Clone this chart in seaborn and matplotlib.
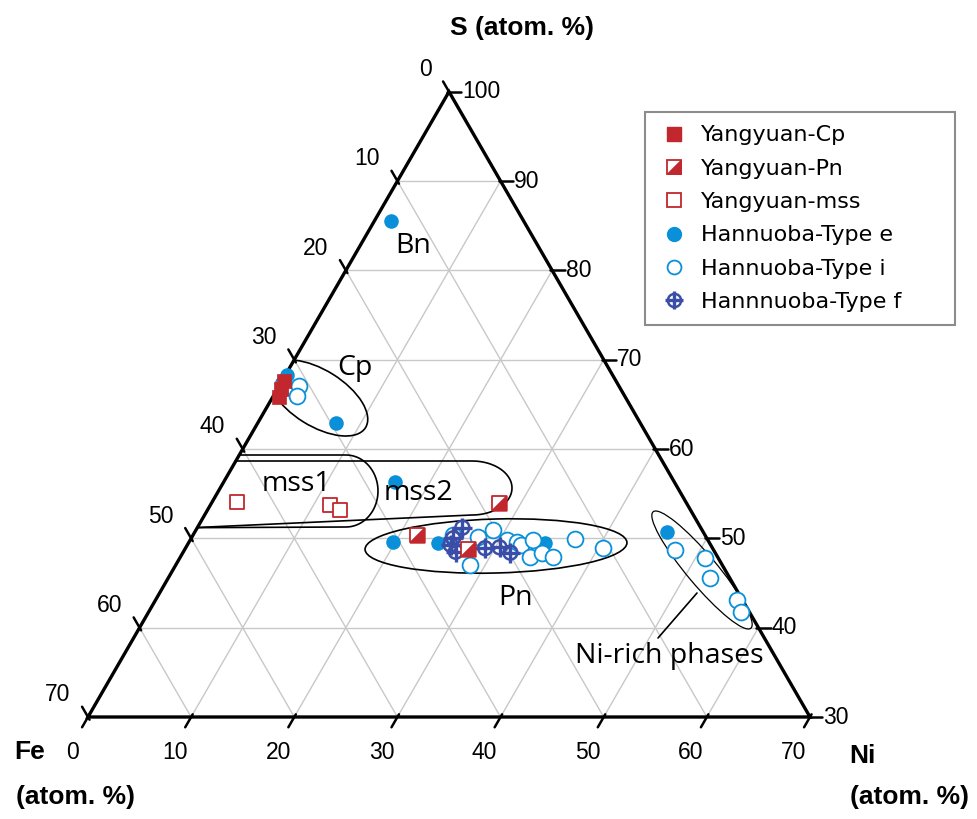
import numpy as np
import pandas as pd
import matplotlib
matplotlib.use("Agg")
import matplotlib.pyplot as plt
import seaborn as sns
from matplotlib.path import Path
from matplotlib.patches import Ellipse, PathPatch, Polygon
from matplotlib.lines import Line2D
from matplotlib.legend_handler import HandlerTuple
from matplotlib import font_manager

# Ni, S in atom.% (Fe = 100 - Ni - S)
cp_ni = [0.2, 0.35, 0.6]
cp_s = [67.6, 66.7, 65.8]
pn_ni = [27.8, 21.7, 27.45]
pn_s = [54.0, 50.4, 48.8]
mss_ni = [2.4, 11.6, 12.8]
mss_s = [54.1, 53.7, 53.2]
e_ni = [1.6, 0.15, 7.6, 16.6, 19.8, 24.2, 34.6, 45.8]
e_s = [85.5, 68.3, 62.9, 56.3, 49.6, 49.5, 49.5, 50.7]
i_ni = [0.3, 1.8, 1.9, 2.3, 25.2, 27.75, 28.5, 28.8, 30.7, 31.8, 32.3, 33.25,
        33.9, 34.85, 36.1, 37.3, 40.5, 47.6, 50.9, 52.5, 56.4, 57.4]
i_s = [67.3, 66.6, 67.1, 65.9, 50.4, 50.2, 47.0, 50.9, 49.8, 49.6, 49.3, 49.8,
       47.9, 48.4, 47.9, 49.9, 48.9, 48.7, 47.8, 45.6, 43.1, 41.8]
f_ni = [25.7, 25.4, 25.5, 26.4, 29.05, 30.4, 31.75]
f_s = [51.2, 50.0, 49.3, 48.5, 48.9, 49.0, 48.4]

tick_vals = [0, 10, 20, 30, 40, 50, 60, 70]
legend_labels = ["Yangyuan-Cp", "Yangyuan-Pn", "Yangyuan-mss",
                 "Hannuoba-Type e", "Hannuoba-Type i", "Hannnuoba-Type f"]

RED = "#c1272d"
BLUE = "#0a90d8"
FBLUE = "#3a4ea8"
GRID = "#c8c8c8"

sns.set_style("white")
names = {f.name for f in font_manager.fontManager.ttflist}
NARROW = "Liberation Sans Narrow" in names
NUMFONT = ["Liberation Sans Narrow", "DejaVu Sans"] if NARROW else ["Liberation Sans", "DejaVu Sans"]
NUMSIZE = 19 if NARROW else 16.5
BOLDSIZE = 21 if NARROW else 19
plt.rcParams["font.family"] = ["DejaVu Sans"]
plt.rcParams["text.color"] = "black"

H = np.sqrt(3) / 2
PX = 722 / 70  # pixels per unit


def tern(ni, s):
    ni = np.asarray(ni, float)
    s = np.asarray(s, float)
    return ni + (s - 30) / 2, (s - 30) * H


def px(xp, yp):
    return (xp - 88) / PX, (717 - yp) / PX


fig = plt.figure(figsize=(9.78, 8.19), dpi=100)
ax = fig.add_axes([0, 0, 1, 1])
ax.set_xlim(-88 / PX, (978 - 88) / PX)
ax.set_ylim(-(819 - 717) / PX, 717 / PX)
ax.axis("off")

# grid
for v in tick_vals[1:-1]:
    x, y = tern([0, 100 - (v + 30)], [v + 30, v + 30])
    ax.plot(x, y, color=GRID, lw=1, zorder=1)
    x, y = tern([v, v], [30, 100 - v])
    ax.plot(x, y, color=GRID, lw=1, zorder=1)
    x, y = tern([0, 70 - v], [100 - v, 30])
    ax.plot(x, y, color=GRID, lw=1, zorder=1)

corners = np.array([tern(0, 30), tern(70, 30), tern(0, 100)])
tri = Polygon(corners, closed=True, fill=False, ec="black", lw=2.4, zorder=5,
              joinstyle="miter")
ax.add_patch(tri)
clip_tri = Polygon(corners, closed=True, transform=ax.transData)

# ticks + labels
for v in tick_vals:
    bx, by = tern(v, 30)
    ax.plot([bx + 0.3 * 0.5, bx - 1.15 * 0.5], [by + 0.3 * H, by - 1.15 * H],
            color="black", lw=1.8, zorder=5)
    ax.text(bx - 1.55, by - 3.4, str(v), ha="center", va="center",
            family=NUMFONT, fontsize=NUMSIZE)
    lx, ly = tern(0, 100 - v)
    ax.plot([lx + 0.3 * 0.5, lx - 1.15 * 0.5], [ly - 0.3 * H, ly + 1.15 * H],
            color="black", lw=1.8, zorder=5)
    ax.text(lx - 1.7, ly + 2.15, str(v), ha="right", va="center",
            family=NUMFONT, fontsize=NUMSIZE)
    s = 100 - v
    rx, ry = tern(100 - s, s)
    ax.plot([rx - 0.2, rx + 1.2], [ry, ry], color="black", lw=1.8, zorder=5)
    ax.text(rx + 1.3, ry, str(s), ha="left", va="center",
            family=NUMFONT, fontsize=NUMSIZE)


# field outlines
def stadium(x1, ytop, ybot_r, ybot_l, rx, x0=120):
    cy = (ytop + ybot_r) / 2
    ry = (ybot_r - ytop) / 2
    t = np.linspace(np.pi / 2, -np.pi / 2, 40)
    pts = [(x0, ytop)] + [(x1 - rx + rx * np.cos(a), cy - ry * np.sin(a)) for a in t] + [(x0, ybot_l)]
    return Path([px(*p) for p in pts])


for path in [stadium(378, 455, 527, 528, 32), stadium(512, 461, 515, 531, 40)]:
    pp = PathPatch(path, fill=False, ec="black", lw=1.2, zorder=3)
    ax.add_patch(pp)
    pp.set_clip_path(clip_tri)

cp_el = Ellipse(px(318, 398), 112 / PX, 56 / PX, angle=-32, fill=False, ec="black", lw=1.2, zorder=3)
ax.add_patch(cp_el)
cp_el.set_clip_path(clip_tri)
ax.add_patch(Ellipse(px(496, 546), 262 / PX, 54 / PX, angle=1.5, fill=False, ec="black", lw=1.2, zorder=3))
ax.add_patch(Ellipse(px(702, 570), 152 / PX, 30 / PX, angle=-50, fill=False, ec="black", lw=0.9, zorder=3))
x0, y0 = px(697, 593)
x1, y1 = px(658, 638)
ax.plot([x0, x1], [y0, y1], color="black", lw=1.2, zorder=3)

# data
half = Path([(-1, -1), (1, -1), (1, 1), (-1, -1)])

x, y = tern(e_ni, e_s)
sns.scatterplot(x=x, y=y, ax=ax, marker="o", s=110, color=BLUE, edgecolor=BLUE, linewidth=0, zorder=6, legend=False)
x, y = tern(i_ni, i_s)
sns.scatterplot(x=x, y=y, ax=ax, marker="o", s=130, color=BLUE, facecolor="white", edgecolor=BLUE, linewidth=1.3, zorder=7, legend=False)
x, y = tern(f_ni, f_s)
sns.scatterplot(x=x, y=y, ax=ax, marker="o", s=100, color=FBLUE, facecolor="none", edgecolor=FBLUE, linewidth=1.8, zorder=8, legend=False)
sns.scatterplot(x=x, y=y, ax=ax, marker="+", s=190, color=FBLUE, edgecolor=FBLUE, linewidth=2.4, zorder=8, legend=False)
x, y = tern(mss_ni, mss_s)
sns.scatterplot(x=x, y=y, ax=ax, marker="s", s=110, color=RED, facecolor="white", edgecolor=RED, linewidth=1.3, zorder=9, legend=False)
x, y = tern(pn_ni, pn_s)
sns.scatterplot(x=x, y=y, ax=ax, marker="s", s=110, color=RED, facecolor="white", edgecolor=RED, linewidth=1.3, zorder=9, legend=False)
sns.scatterplot(x=x, y=y, ax=ax, marker=half, s=110, color=RED, edgecolor=RED, linewidth=1.3, zorder=9, legend=False)
x, y = tern(cp_ni, cp_s)
sns.scatterplot(x=x, y=y, ax=ax, marker="s", s=110, color=RED, edgecolor=RED, linewidth=0.5, zorder=10, legend=False)

# labels
LBL = ["Open Sans", "DejaVu Sans"]
for txt, (xp, yp) in [("Bn", (413, 246)), ("Cp", (355, 368)), ("mss1", (296, 484)),
                      ("mss2", (418, 493)), ("Pn", (516, 598)), ("Ni-rich phases", (669, 656))]:
    ax.text(*px(xp, yp), txt, ha="center", va="center", family=LBL, fontsize=20.5, zorder=11)

BOLD = dict(family=NUMFONT, fontsize=BOLDSIZE, fontweight="bold")
ax.text(*px(522, 28), "S (atom. %)", ha="center", va="center", **BOLD)
ax.text(*px(30, 752), "Fe", ha="center", va="center", **BOLD)
ax.text(*px(75, 797), "(atom. %)", ha="center", va="center", **BOLD)
ax.text(*px(862, 756), "Ni", ha="center", va="center", **BOLD)
ax.text(*px(910, 797), "(atom. %)", ha="center", va="center", **BOLD)

# legend
ms = 9.5
handles = [
    Line2D([], [], ls="none", marker="s", color=RED, mec=RED, ms=ms),
    (Line2D([], [], ls="none", marker="s", mfc="white", mec=RED, mew=1.3, ms=ms),
     Line2D([], [], ls="none", marker=half, color=RED, mec=RED, mew=1.3, ms=ms)),
    Line2D([], [], ls="none", marker="s", mfc="white", mec=RED, mew=1.3, ms=ms),
    Line2D([], [], ls="none", marker="o", color=BLUE, mec=BLUE, ms=ms + 0.5),
    Line2D([], [], ls="none", marker="o", mfc="white", mec=BLUE, mew=1.3, ms=ms + 0.5),
    (Line2D([], [], ls="none", marker="o", mfc="none", mec=FBLUE, mew=1.8, ms=ms),
     Line2D([], [], ls="none", marker="+", mec=FBLUE, mew=2.4, ms=ms + 3)),
]
leg = ax.legend(handles, legend_labels, loc="upper left",
                bbox_to_anchor=(645 / 978, (819 - 322) / 819, 310 / 978, 210 / 819),
                bbox_transform=fig.transFigure, mode="expand", borderaxespad=0,
                handler_map={tuple: HandlerTuple(ndivide=1)},
                prop={"family": "DejaVu Sans", "size": 16},
                frameon=True, fancybox=False, framealpha=1, edgecolor="#8c8c8c",
                borderpad=0.6, handlelength=1.4, handletextpad=0.5, labelspacing=0.6)
leg.get_frame().set_linewidth(1.5)
leg.set_zorder(12)
for t in leg.get_texts():
    t.set_color("black")

fig.savefig("out.png", dpi=100)
